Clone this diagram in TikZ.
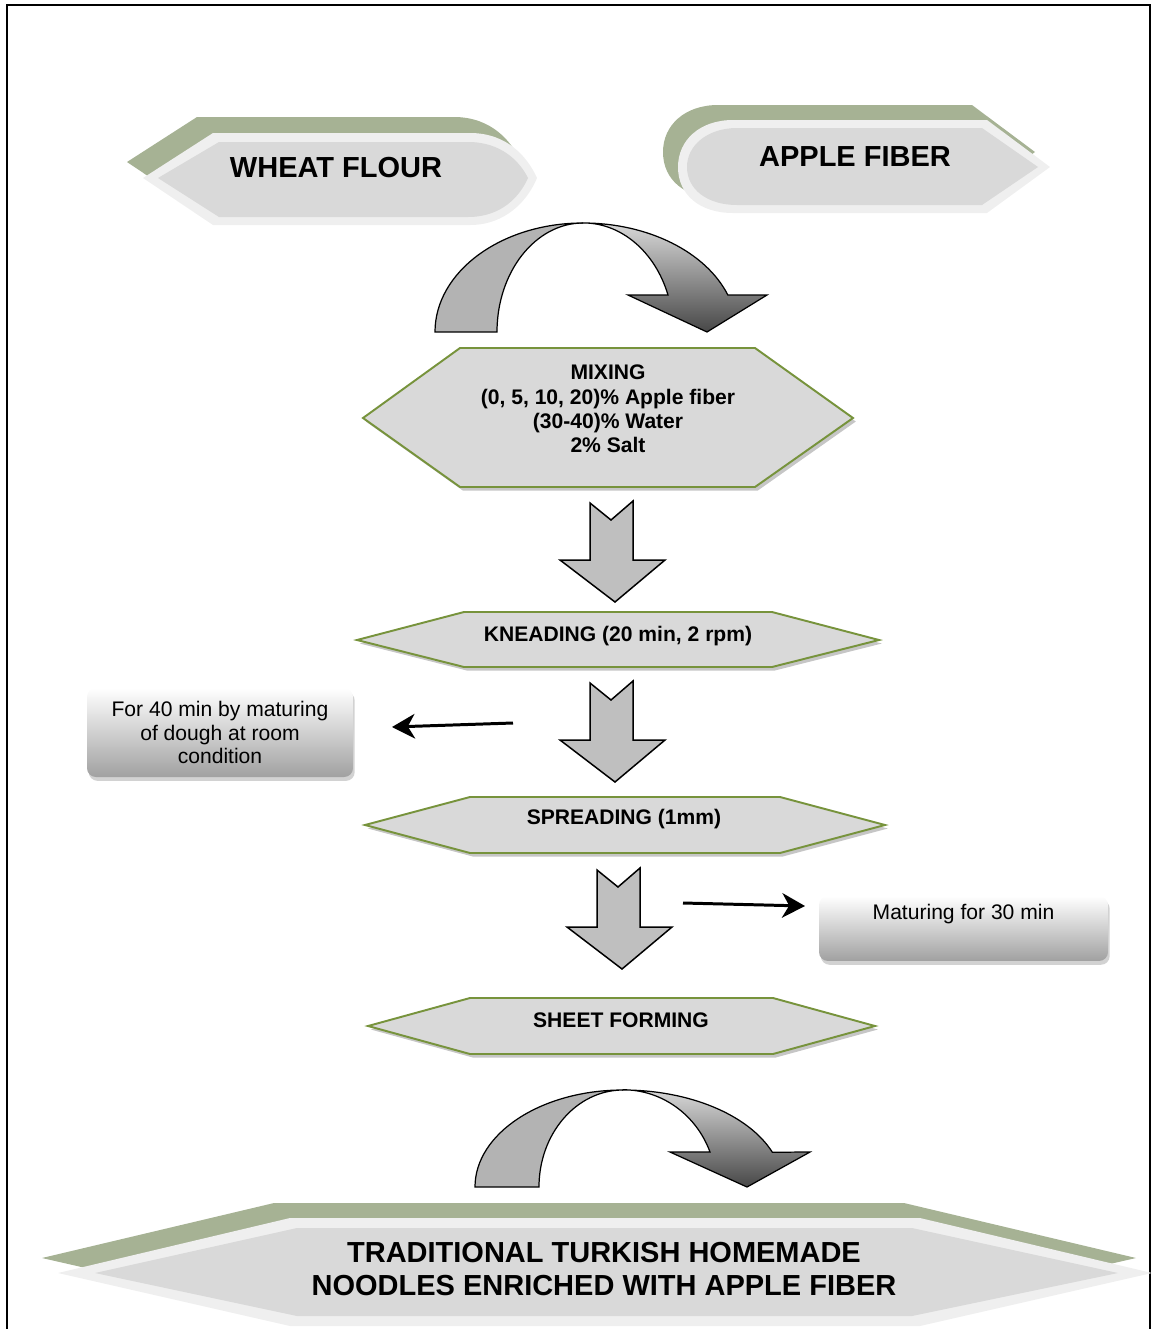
\documentclass[tikz,border=0pt]{standalone}
\usepackage{fontspec}
\setmainfont{Liberation Sans}
\usetikzlibrary{arrows.meta,shadows}

\definecolor{leafgreen}{HTML}{A6B294}
\definecolor{paleedge}{HTML}{EFEFEF}
\definecolor{panelgray}{HTML}{D9D9D9}
\definecolor{olivegreen}{HTML}{77933C}
\definecolor{arrowgray}{HTML}{BFBFBF}
\definecolor{bendgray}{HTML}{B3B3B3}

\tikzset{
  hexstep/.style={draw=olivegreen, fill=panelgray, line width=1.1pt, line join=miter,
    drop shadow={shadow xshift=1.6pt, shadow yshift=-2pt, fill=black!50, opacity=.45}},
  steptext/.style={font=\bfseries\fontsize{12}{13.8}\selectfont, align=center, inner sep=0pt},
  titletext/.style={font=\bfseries\fontsize{16.5}{19.3}\selectfont, align=center, inner sep=0pt},
  notebox/.style={rounded corners=5pt, top color=white, bottom color=black!37,
    drop shadow={shadow xshift=1pt, shadow yshift=-2.2pt, fill=black!25, opacity=.7},
    font=\fontsize{12}{13.6}\selectfont, align=center},
  fatarrow/.style={draw=black, fill=arrowgray, line width=0.85pt, line join=miter},
  bendback/.style={draw=black, fill=bendgray, line width=0.7pt},
  bendfront/.style={draw=black, line width=0.7pt, top color=black!15, bottom color=black!72},
  thinarrow/.style={line width=1.7pt, -{Stealth[length=13pt,width=14pt,inset=4pt]}},
}

\begin{document}
\begin{tikzpicture}[x=0.02cm,y=-0.02cm]
  \useasboundingbox (0,0) rectangle (1155,1329);

  % Drawing the frame
  \draw [line width=1.3pt] (7,1329) -- (7,5) -- (1150,5) -- (1150,1329);%

  % Drawing label WHEAT FLOUR
  \fill [leafgreen, shift={(-16,-16)}] (213,133) -- (470,133) .. controls (508,133) and (528,158) .. (537,178) .. controls (528,200) and (506,225) .. (470,225) -- (213,225) -- (143,178) -- cycle;%
  \fill [paleedge] (213,133) -- (470,133) .. controls (508,133) and (528,158) .. (537,178) .. controls (528,200) and (506,225) .. (470,225) -- (213,225) -- (143,178) -- cycle;%
  \fill [panelgray] (219,142) -- (468,142) .. controls (502,142) and (520,162) .. (528,178) .. controls (520,196) and (502,217) .. (468,217) -- (219,217) -- (158,178) -- cycle;%
  \node [titletext] (wheat) at (336,168) {WHEAT FLOUR};%

  % Drawing label APPLE FIBER
  \fill [leafgreen, shift={(-15,-15)}] (733,120) -- (987,120) -- (1050,167) -- (987,213) -- (733,213) .. controls (700,213) and (678,195) .. (678,167) .. controls (678,140) and (700,120) .. (733,120) -- cycle;%
  \fill [paleedge] (733,120) -- (987,120) -- (1050,167) -- (987,213) -- (733,213) .. controls (700,213) and (678,195) .. (678,167) .. controls (678,140) and (700,120) .. (733,120) -- cycle;%
  \fill [panelgray] (737,128) -- (982,128) -- (1038,167) -- (982,205) -- (737,205) .. controls (708,205) and (687,190) .. (687,167) .. controls (687,145) and (708,128) .. (737,128) -- cycle;%
  \node [titletext] (apple) at (855,157) {APPLE FIBER};%

  % Drawing curved arrow 1
  \draw [bendback] (435,332) arc [start angle=180, end angle=270, x radius=148, y radius=109] arc [start angle=270, end angle=180, x radius=86, y radius=109] -- cycle;%
  \draw [bendfront] (583,223) arc [start angle=270, end angle=340.2, x radius=154, y radius=109] -- (767,295) -- (707,332) -- (628,295) -- (668,295) arc [start angle=340.2, end angle=270, x radius=90, y radius=109] -- cycle;%

  % Drawing step MIXING
  \draw [hexstep] (363,418) -- (460,348) -- (755,348) -- (853,418) -- (755,487) -- (460,487) -- cycle;%
  \node [steptext] (mixing) at (608,409) {MIXING\\(0, 5, 10, 20)\% Apple fiber\\(30-40)\% Water\\2\% Salt};%

  % Drawing block arrow 1
  \draw [fatarrow] (590,503) -- (611,520) -- (633,501) -- (633,560) -- (665,560) -- (615,602) -- (560,560) -- (590,560) -- cycle;%

  % Drawing step KNEADING
  \draw [hexstep] (357,640) -- (464,612) -- (772,612) -- (879,640) -- (772,667) -- (464,667) -- cycle;%
  \node [steptext] (kneading) at (618,636) {KNEADING (20 min, 2 rpm)};%

  % Drawing block arrow 2
  \draw [fatarrow] (590,683) -- (611,700) -- (633,681) -- (633,740) -- (665,740) -- (615,782) -- (560,740) -- (590,740) -- cycle;%

  % Drawing note on the left
  \node [notebox, minimum width=5.32cm, minimum height=1.78cm] (lbox) at (220,732.5) {For 40 min by maturing\\of dough at room\\condition};%
  \coordinate (lfrom) at (513,723);%
  \coordinate (lto) at (392,727);%
  \draw [thinarrow] (lfrom) -- (lto);%

  % Drawing step SPREADING
  \draw [hexstep] (365,825) -- (470,797) -- (780,797) -- (885,825) -- (780,853) -- (470,853) -- cycle;%
  \node [steptext] (spreading) at (624,819) {SPREADING (1mm)};%

  % Drawing block arrow 3
  \draw [fatarrow] (597,870) -- (618,887) -- (640,868) -- (640,927) -- (672,927) -- (622,969) -- (567,927) -- (597,927) -- cycle;%

  % Drawing note on the right
  \coordinate (rfrom) at (683,903);%
  \coordinate (rto) at (805,906);%
  \draw [thinarrow] (rfrom) -- (rto);%
  \node [notebox, minimum width=5.78cm, text height=8.6pt, text depth=18.7pt, inner ysep=4.8pt] (rbox) at (963.5,928.5) {Maturing for 30 min};%

  % Drawing step SHEET FORMING
  \draw [hexstep] (368,1026) -- (470,998) -- (773,998) -- (875,1026) -- (773,1054) -- (470,1054) -- cycle;%
  \node [steptext] (sheet) at (621,1020) {SHEET FORMING};%

  % Drawing curved arrow 2
  \draw [bendback] (475,1187) arc [start angle=180, end angle=270, x radius=148, y radius=97] arc [start angle=270, end angle=180, x radius=84, y radius=97] -- cycle;%
  \draw [bendfront] (623,1090) arc [start angle=270, end angle=339, x radius=160, y radius=97] -- (810,1152) -- (747,1187) -- (670,1152) -- (710,1152) arc [start angle=339, end angle=270, x radius=93, y radius=97] -- cycle;%

  % Drawing label of the product
  \fill [leafgreen, shift={(-16,-15)}] (58,1273) -- (290,1218) -- (920,1218) -- (1152,1273) -- (920,1326) -- (290,1326) -- cycle;%
  \fill [paleedge] (58,1273) -- (290,1218) -- (920,1218) -- (1152,1273) -- (920,1326) -- (290,1326) -- cycle;%
  \fill [panelgray] (95,1273) -- (297,1228) -- (912,1228) -- (1118,1273) -- (912,1316) -- (297,1316) -- cycle;%
  \node [titletext] (product) at (604,1269) {TRADITIONAL TURKISH HOMEMADE\\NOODLES ENRICHED WITH APPLE FIBER};%
\end{tikzpicture}
\end{document}
